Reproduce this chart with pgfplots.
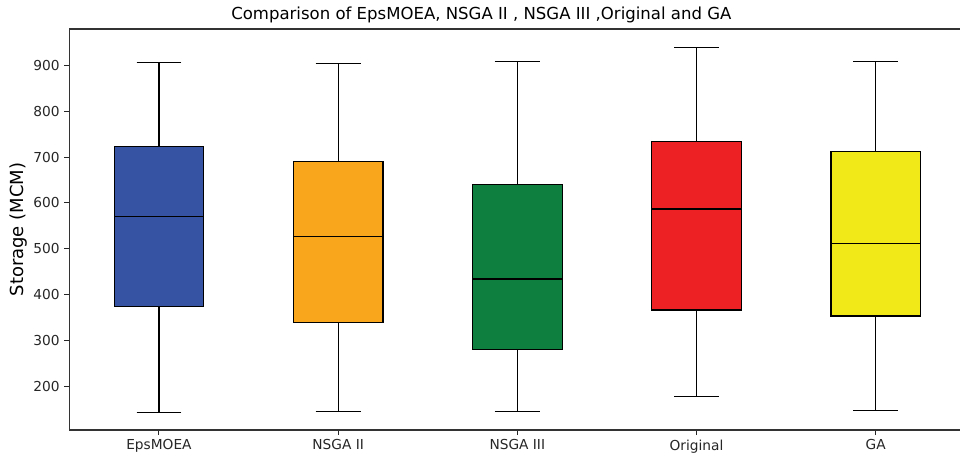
\documentclass[border=0pt]{standalone}
\usepackage{pgfplots}
\pgfplotsset{compat=1.18}
\usepgfplotslibrary{statistics}
\usetikzlibrary{calc}
\usepackage{fontspec}
\setmainfont{DejaVu Sans}
\definecolor{cblue}{RGB}{54,83,163}
\definecolor{corange}{RGB}{249,166,28}
\definecolor{cgreen}{RGB}{14,127,62}
\definecolor{cred}{RGB}{237,32,36}
\definecolor{cyellow}{RGB}{241,234,24}
\begin{document}
\begin{tikzpicture}
\begin{axis}[
  scale only axis, width=672pt, height=300.75pt,
  xmin=0.5, xmax=5.5, ymin=104, ymax=980,
  xtick={1,2,3,4,5}, xticklabels={EpsMOEA,NSGA II,NSGA III,Original,GA},
  ytick={200,300,...,900},
  tick align=outside, tick pos=left,
  major tick length=3.75pt,
  tick style={black!85, line width=0.7pt},
  ticklabel style={font=\fontsize{10.3}{12}\selectfont, text=black!85},
  /pgf/number format/assume math mode=true,
  ylabel={Storage (MCM)}, ylabel style={font=\fontsize{13.5}{15}\selectfont, yshift=-2pt},
  title={Comparison of EpsMOEA, NSGA II , NSGA III ,Original and GA},
  title style={font=\fontsize{12.4}{14}\selectfont, xshift=-27pt, yshift=-5pt},
  axis line style={line width=0.8pt, black!80},
  boxplot/draw direction=y,
]
\addplot[boxplot prepared={median=570, upper quartile=723, lower quartile=373, upper whisker=907, lower whisker=143, draw position=1, box extend=0.5, whisker extend=0.25}, fill=cblue, draw=black, line width=0.9pt] coordinates {};
\addplot[boxplot prepared={median=526, upper quartile=690, lower quartile=338, upper whisker=904, lower whisker=145, draw position=2, box extend=0.5, whisker extend=0.25}, fill=corange, draw=black, line width=0.9pt] coordinates {};
\addplot[boxplot prepared={median=434, upper quartile=640, lower quartile=279, upper whisker=909, lower whisker=145, draw position=3, box extend=0.5, whisker extend=0.25}, fill=cgreen, draw=black, line width=0.9pt] coordinates {};
\addplot[boxplot prepared={median=587, upper quartile=734, lower quartile=366, upper whisker=939, lower whisker=178, draw position=4, box extend=0.5, whisker extend=0.25}, fill=cred, draw=black, line width=0.9pt] coordinates {};
\addplot[boxplot prepared={median=512, upper quartile=712, lower quartile=353, upper whisker=909, lower whisker=146, draw position=5, box extend=0.5, whisker extend=0.25}, fill=cyellow, draw=black, line width=0.9pt] coordinates {};
\end{axis}
\pgfresetboundingbox
\useasboundingbox ($(current axis.south west)+(-52pt,-18.75pt)$) rectangle ($(current axis.south west)+(668pt,322.5pt)$);
\end{tikzpicture}
\end{document}
